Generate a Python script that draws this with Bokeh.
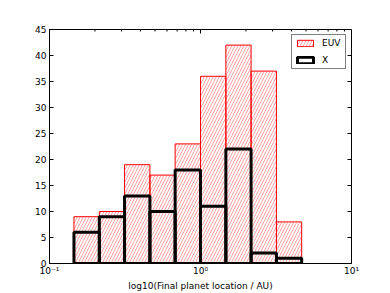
import numpy as np
from bokeh.plotting import figure
from bokeh.models import (Range1d, FixedTicker, Legend, LegendItem,
                          ColumnDataSource, CustomJSTickFormatter)
from bokeh.embed import file_html
from bokeh.resources import INLINE

# Data
bin_edges_log = [-0.838, -0.670, -0.503, -0.335, -0.168, 0.000, 0.168, 0.335, 0.503, 0.670]
euv_counts = [9, 10, 19, 17, 23, 36, 42, 37, 8]
x_counts = [6, 9, 13, 10, 18, 11, 22, 2, 1]
y_ticks = [0, 5, 10, 15, 20, 25, 30, 35, 40, 45]
x_major_ticks = [0.1, 1, 10]
x_minor_ticks = [m * d for d in (0.1, 1) for m in range(2, 10)]
x_lim = (0.1, 10)
y_lim = (0, 45)

edges = 10 ** np.array(bin_edges_log)
lefts = edges[:-1]
rights = edges[1:]

FONT = "DejaVu Sans"
FS = "9px"

p = figure(width=385, height=293, x_axis_type="log",
           x_range=Range1d(*x_lim), y_range=Range1d(*y_lim),
           output_backend="svg", toolbar_location=None,
           min_border_left=49, min_border_right=34, min_border_top=29, min_border_bottom=30)
p.grid.visible = False
p.outline_line_color = "black"
p.outline_line_width = 1
p.background_fill_color = "white"
p.border_fill_color = "white"

src_euv = ColumnDataSource(dict(left=lefts, right=rights, top=euv_counts, bottom=[0]*len(euv_counts)))
src_x = ColumnDataSource(dict(left=lefts, right=rights, top=x_counts, bottom=[0]*len(x_counts)))

r_euv = p.quad(left="left", right="right", top="top", bottom="bottom", source=src_euv,
               fill_color=None, line_color="#ff0000", line_width=1,
               hatch_pattern="/", hatch_color="#ff3030", hatch_alpha=0.45,
               hatch_scale=6, hatch_weight=1)
r_x = p.quad(left="left", right="right", top="top", bottom="bottom", source=src_x,
             fill_color=None, line_color="black", line_width=3)

# inward ticks on top and right spines (screen-length rays)
p.ray(x=x_major_ticks, y=[y_lim[1]]*len(x_major_ticks), length=4, length_units="screen",
      angle=-np.pi/2, line_color="black", line_width=1)
p.ray(x=x_minor_ticks, y=[y_lim[1]]*len(x_minor_ticks), length=2, length_units="screen",
      angle=-np.pi/2, line_color="black", line_width=1)
p.ray(x=[x_lim[1]]*len(y_ticks), y=y_ticks, length=4, length_units="screen",
      angle=np.pi, line_color="black", line_width=1)

sup_fmt = CustomJSTickFormatter(code="""
const e = Math.round(Math.log10(tick));
const m = {"-1": "10\u207b\u00b9", "0": "10\u2070", "1": "10\u00b9"};
return m[String(e)] || "";
""")

# bottom axis
xa = p.xaxis[0]
xa.axis_label = "log10(Final planet location / AU)"
xa.ticker = FixedTicker(ticks=x_major_ticks, minor_ticks=x_minor_ticks)
xa.formatter = sup_fmt
xa.major_tick_in = 4
xa.major_tick_out = 0
xa.minor_tick_in = 0
xa.minor_tick_out = 0
xa.major_label_standoff = 2
xa.axis_label_standoff = 2
xa.axis_label_text_font = FONT
xa.axis_label_text_font_size = FS
xa.axis_label_text_font_style = "normal"
xa.axis_label_text_color = "black"
xa.major_label_text_font = FONT
xa.major_label_text_font_size = FS
xa.major_label_text_color = "black"
xa.axis_line_color = "black"
xa.major_tick_line_color = "black"

ya = p.yaxis[0]
ya.ticker = FixedTicker(ticks=y_ticks)
ya.major_tick_in = 4
ya.major_tick_out = 0
ya.minor_tick_in = 0
ya.minor_tick_out = 0
ya.major_label_standoff = 3
ya.major_label_text_font = FONT
ya.major_label_text_font_size = FS
ya.major_label_text_color = "black"
ya.axis_line_color = "black"
ya.major_tick_line_color = "black"

legend = Legend(items=[LegendItem(label="EUV", renderers=[r_euv]),
                       LegendItem(label="X", renderers=[r_x])],
                location="top_right")
legend.border_line_color = "black"
legend.border_line_width = 1
legend.label_text_font = FONT
legend.label_text_font_size = FS
legend.label_text_color = "black"
legend.glyph_width = 20
legend.glyph_height = 8
legend.label_height = 8
legend.label_standoff = 7
legend.spacing = 7
legend.padding = 3
legend.margin = 5
legend.background_fill_alpha = 1
p.add_layout(legend)

open("out.html", "w").write(file_html(p, INLINE))
